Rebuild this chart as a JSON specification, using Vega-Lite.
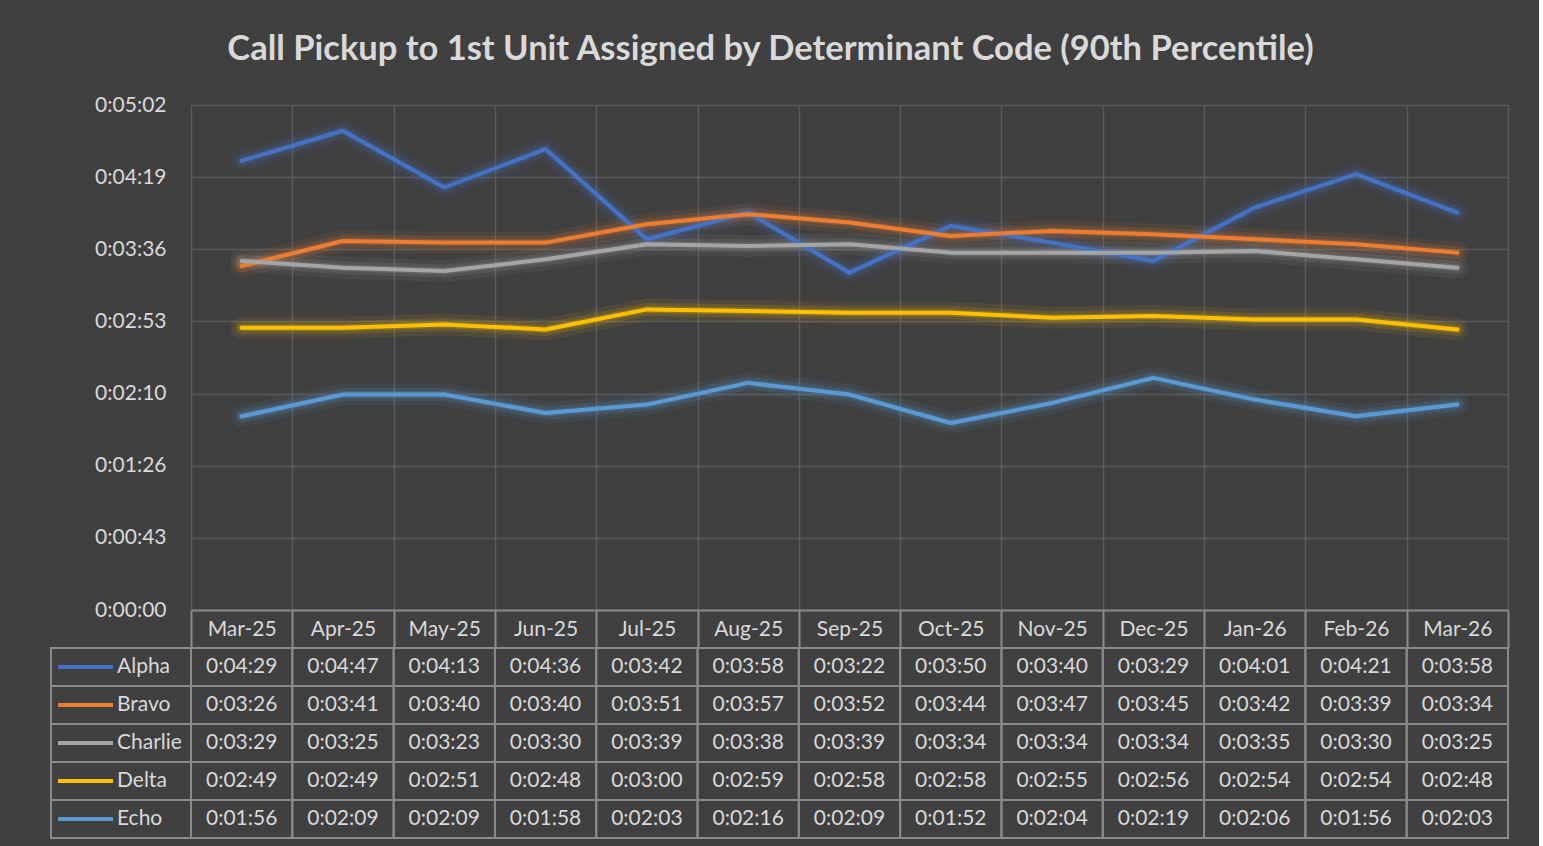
{
  "$schema": "https://vega.github.io/schema/vega-lite/v6.json",
  "background": "#404040",
  "padding": {"left": 50, "top": 31, "right": 30, "bottom": 9},
  "title": {"text": "Call Pickup to 1st Unit Assigned by Determinant Code (90th Percentile)", "anchor": "middle", "fontSize": 34.5, "font": "Lato", "fontWeight": "bold", "color": "#d9d9d9", "offset": 27, "dx": -9},
  "config": {
    "font": "Lato",
    "view": {"stroke": null},
    "axis": {"labelFont": "Lato", "labelColor": "#d9d9d9", "labelFontSize": 21, "title": null},
    "text": {"font": "Lato"}
  },
  "datasets": {
    "d": [
      {"month": "Mar-25", "series": "Alpha", "seconds": 269},
      {"month": "Apr-25", "series": "Alpha", "seconds": 287},
      {"month": "May-25", "series": "Alpha", "seconds": 253},
      {"month": "Jun-25", "series": "Alpha", "seconds": 276},
      {"month": "Jul-25", "series": "Alpha", "seconds": 222},
      {"month": "Aug-25", "series": "Alpha", "seconds": 238},
      {"month": "Sep-25", "series": "Alpha", "seconds": 202},
      {"month": "Oct-25", "series": "Alpha", "seconds": 230},
      {"month": "Nov-25", "series": "Alpha", "seconds": 220},
      {"month": "Dec-25", "series": "Alpha", "seconds": 209},
      {"month": "Jan-26", "series": "Alpha", "seconds": 241},
      {"month": "Feb-26", "series": "Alpha", "seconds": 261},
      {"month": "Mar-26", "series": "Alpha", "seconds": 238},
      {"month": "Mar-25", "series": "Bravo", "seconds": 206},
      {"month": "Apr-25", "series": "Bravo", "seconds": 221},
      {"month": "May-25", "series": "Bravo", "seconds": 220},
      {"month": "Jun-25", "series": "Bravo", "seconds": 220},
      {"month": "Jul-25", "series": "Bravo", "seconds": 231},
      {"month": "Aug-25", "series": "Bravo", "seconds": 237},
      {"month": "Sep-25", "series": "Bravo", "seconds": 232},
      {"month": "Oct-25", "series": "Bravo", "seconds": 224},
      {"month": "Nov-25", "series": "Bravo", "seconds": 227},
      {"month": "Dec-25", "series": "Bravo", "seconds": 225},
      {"month": "Jan-26", "series": "Bravo", "seconds": 222},
      {"month": "Feb-26", "series": "Bravo", "seconds": 219},
      {"month": "Mar-26", "series": "Bravo", "seconds": 214},
      {"month": "Mar-25", "series": "Charlie", "seconds": 209},
      {"month": "Apr-25", "series": "Charlie", "seconds": 205},
      {"month": "May-25", "series": "Charlie", "seconds": 203},
      {"month": "Jun-25", "series": "Charlie", "seconds": 210},
      {"month": "Jul-25", "series": "Charlie", "seconds": 219},
      {"month": "Aug-25", "series": "Charlie", "seconds": 218},
      {"month": "Sep-25", "series": "Charlie", "seconds": 219},
      {"month": "Oct-25", "series": "Charlie", "seconds": 214},
      {"month": "Nov-25", "series": "Charlie", "seconds": 214},
      {"month": "Dec-25", "series": "Charlie", "seconds": 214},
      {"month": "Jan-26", "series": "Charlie", "seconds": 215},
      {"month": "Feb-26", "series": "Charlie", "seconds": 210},
      {"month": "Mar-26", "series": "Charlie", "seconds": 205},
      {"month": "Mar-25", "series": "Delta", "seconds": 169},
      {"month": "Apr-25", "series": "Delta", "seconds": 169},
      {"month": "May-25", "series": "Delta", "seconds": 171},
      {"month": "Jun-25", "series": "Delta", "seconds": 168},
      {"month": "Jul-25", "series": "Delta", "seconds": 180},
      {"month": "Aug-25", "series": "Delta", "seconds": 179},
      {"month": "Sep-25", "series": "Delta", "seconds": 178},
      {"month": "Oct-25", "series": "Delta", "seconds": 178},
      {"month": "Nov-25", "series": "Delta", "seconds": 175},
      {"month": "Dec-25", "series": "Delta", "seconds": 176},
      {"month": "Jan-26", "series": "Delta", "seconds": 174},
      {"month": "Feb-26", "series": "Delta", "seconds": 174},
      {"month": "Mar-26", "series": "Delta", "seconds": 168},
      {"month": "Mar-25", "series": "Echo", "seconds": 116},
      {"month": "Apr-25", "series": "Echo", "seconds": 129},
      {"month": "May-25", "series": "Echo", "seconds": 129},
      {"month": "Jun-25", "series": "Echo", "seconds": 118},
      {"month": "Jul-25", "series": "Echo", "seconds": 123},
      {"month": "Aug-25", "series": "Echo", "seconds": 136},
      {"month": "Sep-25", "series": "Echo", "seconds": 129},
      {"month": "Oct-25", "series": "Echo", "seconds": 112},
      {"month": "Nov-25", "series": "Echo", "seconds": 124},
      {"month": "Dec-25", "series": "Echo", "seconds": 139},
      {"month": "Jan-26", "series": "Echo", "seconds": 126},
      {"month": "Feb-26", "series": "Echo", "seconds": 116},
      {"month": "Mar-26", "series": "Echo", "seconds": 123}
    ]
  },
  "columns": 2,
  "spacing": {"row": 38, "column": 0},
  "bounds": "flush",
  "concat": [
    {
      "width": 140,
      "height": 505,
      "data": {"values": []},
      "mark": "point",
      "encoding": {}
    },
    {
      "width": 1317,
      "height": 505,
      "data": {"name": "d"},
      "encoding": {
        "x": {
          "field": "month", "type": "ordinal",
          "scale": {"type": "band", "paddingInner": 0, "paddingOuter": 0, "domain": ["Mar-25","Apr-25","May-25","Jun-25","Jul-25","Aug-25","Sep-25","Oct-25","Nov-25","Dec-25","Jan-26","Feb-26","Mar-26"]},
          "axis": {"orient": "bottom", "labelAngle": 0, "tickBand": "extent", "ticks": true, "tickSize": 38, "tickColor": "#8a8a8a", "tickWidth": 2, "domain": true, "domainColor": "#8a8a8a", "domainWidth": 2, "grid": true, "gridColor": "#5a5a5a", "gridWidth": 1.5, "labelBaseline": "middle", "labelPadding": -19}
        },
        "y": {
          "field": "seconds", "type": "quantitative",
          "scale": {"domain": [0, 302.4], "nice": false, "zero": true},
          "axis": {"values": [0, 43.2, 86.4, 129.6, 172.8, 216, 259.2, 302.4], "labelExpr": "'0:' + utcFormat(round(datum.value) * 1000, '%M:%S')", "ticks": false, "domain": false, "labelPadding": 25, "grid": true, "gridColor": "#5a5a5a", "gridWidth": 1.5}
        },
        "color": {
          "field": "series", "type": "nominal",
          "scale": {"domain": ["Alpha","Bravo","Charlie","Delta","Echo"], "range": ["#4472c4","#ed7d31","#a5a5a5","#ffc000","#5b9bd5"]},
          "legend": {"orient": "none", "legendX": 5, "legendY": 543, "title": null, "symbolType": "stroke", "symbolSize": 3025, "symbolStrokeWidth": 4, "symbolOpacity": 1, "clipHeight": 38, "rowPadding": 0, "labelFontSize": 21, "labelColor": "#d9d9d9", "labelFont": "Lato", "labelOffset": 2, "padding": 0}
        }
      },
      "layer": [
        {"mark": {"type": "line", "strokeWidth": 22, "opacity": 0.08, "strokeCap": "round", "strokeJoin": "round"}},
        {"mark": {"type": "line", "strokeWidth": 13, "opacity": 0.14, "strokeCap": "round", "strokeJoin": "round"}},
        {"mark": {"type": "line", "strokeWidth": 7, "opacity": 0.22, "strokeCap": "round", "strokeJoin": "round"}},
        {"mark": {"type": "line", "strokeWidth": 4, "opacity": 1, "strokeCap": "round", "strokeJoin": "round"}}
      ]
    },
    {
      "width": 140,
      "height": 190,
      "data": {"name": "d"},
      "transform": [{"filter": "datum.month === 'Mar-25'"}],
      "mark": {"type": "rect", "fill": "#404040", "fillOpacity": 0, "stroke": "#8a8a8a", "strokeWidth": 2},
      "encoding": {
        "y": {"field": "series", "type": "nominal", "scale": {"domain": ["Alpha","Bravo","Charlie","Delta","Echo"], "paddingInner": 0, "paddingOuter": 0}, "axis": null}
      }
    },
    {
      "width": 1317,
      "height": 190,
      "data": {"name": "d"},
      "transform": [{"calculate": "'0:' + utcFormat(datum.seconds * 1000, '%M:%S')", "as": "label"}],
      "encoding": {
        "x": {"field": "month", "type": "ordinal", "scale": {"type": "band", "paddingInner": 0, "paddingOuter": 0, "domain": ["Mar-25","Apr-25","May-25","Jun-25","Jul-25","Aug-25","Sep-25","Oct-25","Nov-25","Dec-25","Jan-26","Feb-26","Mar-26"]}, "axis": null},
        "y": {"field": "series", "type": "nominal", "scale": {"domain": ["Alpha","Bravo","Charlie","Delta","Echo"], "paddingInner": 0, "paddingOuter": 0}, "axis": null}
      },
      "layer": [
        {"mark": {"type": "rect", "fill": "#404040", "fillOpacity": 0, "stroke": "#8a8a8a", "strokeWidth": 2}},
        {"mark": {"type": "text", "fontSize": 21, "color": "#d9d9d9"}, "encoding": {"text": {"field": "label"}}}
      ]
    }
  ]
}
